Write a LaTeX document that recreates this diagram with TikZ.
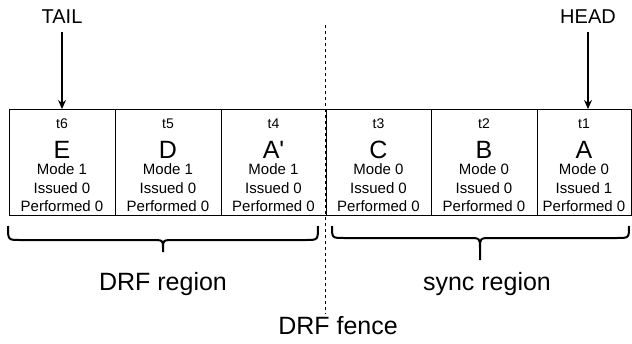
\documentclass[tikz,border=0pt]{standalone}
\usepackage{fontspec}
\setmainfont{Liberation Sans}
\usetikzlibrary{arrows.meta}

\begin{document}
\begin{tikzpicture}[x=1pt,y=-1pt,
  cell/.style={draw,line width=1pt,rectangle,inner sep=0pt,outer sep=0pt,
    minimum height=106pt,align=center,font=\fontsize{15}{18.5}\selectfont},
  tag/.style={font=\fontsize{14}{14}\selectfont},
  big/.style={font=\fontsize{25}{25}\selectfont},
  pointer/.style={font=\fontsize{20}{20}\selectfont},
  region/.style={font=\fontsize{25}{25}\selectfont},
  brace/.style={line width=2pt},
  fenceline/.style={line width=1pt,dashed,dash pattern=on 3pt off 3pt}]
  \useasboundingbox (0,0) rectangle (632,343);

  % queue entries, tail on the left
  \node[cell,minimum width=106pt] (e) at (62,162) {};
  \node[cell,minimum width=106pt] (d) at (168,162) {};
  \node[cell,minimum width=105pt] (a2) at (273.5,162) {};
  \node[cell,minimum width=105pt] (c) at (378.5,162) {};
  \node[cell,minimum width=106pt] (b) at (484,162) {};
  \node[cell,minimum width=94pt] (a) at (584,162) {};

  % contents of each entry
  \node[tag] at (62,124) {t6};
  \node[big] at (62,150) {E};
  \node[cell,draw=none,minimum height=0pt,anchor=north] at (62,164) {Mode 1\\Issued 0\\Performed 0};
  \node[tag] at (168,124) {t5};
  \node[big] at (168,150) {D};
  \node[cell,draw=none,minimum height=0pt,anchor=north] at (168,164) {Mode 1\\Issued 0\\Performed 0};
  \node[tag] at (273.5,124) {t4};
  \node[big] at (273.5,150) {A\textquotesingle};
  \node[cell,draw=none,minimum height=0pt,anchor=north] at (273.5,164) {Mode 1\\Issued 0\\Performed 0};
  \node[tag] at (378.5,124) {t3};
  \node[big] at (378.5,150) {C};
  \node[cell,draw=none,minimum height=0pt,anchor=north] at (378.5,164) {Mode 0\\Issued 0\\Performed 0};
  \node[tag] at (484,124) {t2};
  \node[big] at (484,150) {B};
  \node[cell,draw=none,minimum height=0pt,anchor=north] at (484,164) {Mode 0\\Issued 0\\Performed 0};
  \node[tag] at (584,124) {t1};
  \node[big] at (584,150) {A};
  \node[cell,draw=none,minimum height=0pt,anchor=north] at (584,164) {Mode 0\\Issued 1\\Performed 0};

  % pointers
  \node[pointer] (tail) at (62,17) {TAIL};
  \node[pointer] (head) at (588,17) {HEAD};
  \path[-{Stealth[length=9pt,width=8pt]},line width=1.2pt,shorten <=5pt]
    (tail) edge (e.north)
    (head) edge (head |- a.north);

  % fence between the two regions
  \coordinate (fencetop) at (325,25);
  \coordinate (fencebot) at (325,314);
  \draw[fenceline] (fencetop) -- (fencebot);
  \node[region] (fence) at (338,326) {DRF fence};

  % braces
  \draw[brace] (8,226) .. controls (8,240) .. (20,240) -- (151,240)
    .. controls (163,240) .. (163,248) -- (163,252)
    (163,248) .. controls (163,240) .. (175,240) -- (306,240)
    .. controls (318,240) .. (318,226);
  \draw[brace] (332,226) .. controls (332,238) .. (344,238) -- (468,238)
    .. controls (480,238) .. (480,248) -- (480,260)
    (480,248) .. controls (480,238) .. (492,238) -- (617,238)
    .. controls (629,238) .. (629,226);
  \node[region] (drf) at (163,284) {DRF region};
  \node[region] (sync) at (487,284) {sync region};
\end{tikzpicture}
\end{document}
